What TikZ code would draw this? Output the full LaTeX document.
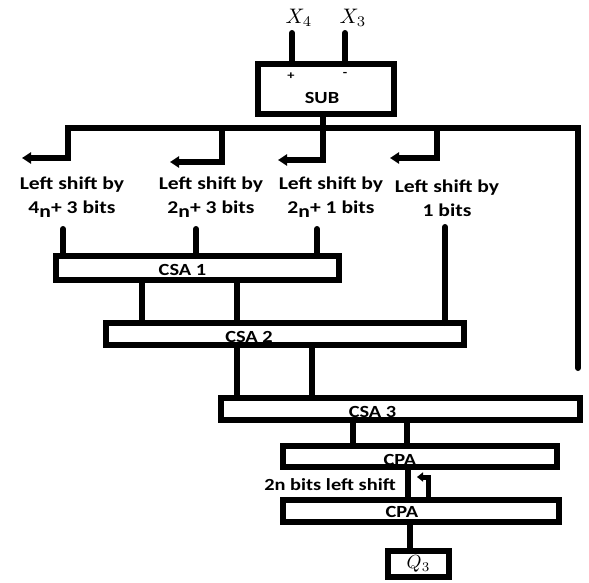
\documentclass[tikz,border=0pt]{standalone}
\usepackage{fontspec}
\setmainfont{Carlito}[FakeStretch=1.2]
\usetikzlibrary{arrows.meta}
\begin{document}
\begin{tikzpicture}[x=1pt,y=-1pt,
  wire/.style={line width=6pt},
  blk/.style={draw, line width=6pt, inner sep=0pt, outer sep=0pt},
  btxt/.style={font=\bfseries\fontsize{17}{20}\selectfont},
  lbl/.style={font=\bfseries\fontsize{18}{24}\selectfont, align=center},
  tip/.style={-{Triangle[length=9pt,width=11pt]}}]
\useasboundingbox (0,0) rectangle (589,583);

% boxes
\node[blk, minimum width=136pt, minimum height=50pt,
  label={[btxt, xshift=-4pt, yshift=-9pt]center:SUB},
  label={[font=\bfseries\fontsize{12}{12}\selectfont, xshift=-35pt, yshift=13pt]center:+},
  label={[font=\bfseries\fontsize{12}{12}\selectfont, xshift=19pt, yshift=15pt]center:-}] (sub) at (326,89) {};
\node[blk, minimum width=283pt, minimum height=24pt,
  label={[btxt, xshift=-15pt, yshift=-2pt]center:CSA 1}] (csa1) at (197.5,268) {};
\node[blk, minimum width=358pt, minimum height=22pt,
  label={[btxt, xshift=-36pt, yshift=-3pt]center:CSA 2}] (csa2) at (285,334) {};
\node[blk, minimum width=359pt, minimum height=22pt,
  label={[btxt, xshift=-28pt, yshift=-3pt]center:CSA 3}] (csa3) at (400.5,409) {};
\node[blk, minimum width=274pt, minimum height=21pt,
  label={[btxt, xshift=-20pt, yshift=-3pt]center:CPA}] (cpa1) at (420,456.5) {};
\node[blk, minimum width=276pt, minimum height=22pt,
  label={[btxt, xshift=-19pt, yshift=-1pt]center:CPA}] (cpa2) at (421,511) {};
\node[blk, minimum width=61pt, minimum height=26pt] (q3) at (418.5,564) {\scalebox{1.9}{$Q_3$}};

% inputs
\node (x4) at (299,18) {\scalebox{2.1}{$X_4$}};
\node (x3) at (353,18) {\scalebox{2.1}{$X_3$}};
\coordinate (p4) at (292,33);
\coordinate (p3) at (345,33);
\draw[wire, line cap=round] (p4) -- (p4 |- sub.north);
\draw[wire, line cap=round] (p3) -- (p3 |- sub.north);

% bus
\coordinate (a1) at (22,158);
\coordinate (b1) at (68,128);
\coordinate (b2) at (222,128);
\coordinate (a2) at (170,162);
\coordinate (b3) at (323,128);
\coordinate (a3) at (278,160);
\coordinate (b4) at (437,128);
\coordinate (a4) at (390,158);
\coordinate (b5) at (578,128);
\coordinate (e5) at (578,368);
\draw[wire] (sub.south -| b3) -- (b3);
\draw[wire, line cap=round, {Triangle[length=9pt,width=11pt]}-] (a1) -| (b1) -- (b5) -- (e5);
\draw[wire, tip] (b2) |- (a2);
\draw[wire, tip] (b3) |- (a3);
\draw[wire, tip] (b4) |- (a4);

% labels
\node[lbl] (l1) at (72,197) {Left shift by\\4\raisebox{-4pt}{n}+ 3 bits};
\node[lbl] (l2) at (211,197) {Left shift by\\2\raisebox{-4pt}{n}+ 3 bits};
\node[lbl] (l3) at (331,197) {Left shift by\\2\raisebox{-4pt}{n}+ 1 bits};
\node[lbl] (l4) at (447,198) {Left shift by\\1 bits};

% stubs
\coordinate (s1) at (63,229);
\coordinate (s2) at (196,229);
\coordinate (s3) at (317,229);
\coordinate (s4) at (445,227);
\draw[wire, line cap=round] (s1) -- (s1 |- csa1.north);
\draw[wire, line cap=round] (s2) -- (s2 |- csa1.north);
\draw[wire, line cap=round] (s3) -- (s3 |- csa1.north);
\draw[wire, line cap=round] (s4) -- (s4 |- csa2.north);

% inter-block wires
\coordinate (k1) at (142,0);
\coordinate (k2) at (237,0);
\coordinate (k3) at (312,0);
\coordinate (k4) at (353,0);
\coordinate (k5) at (407,0);
\coordinate (k6) at (408,0);
\coordinate (k7) at (410,0);
\draw[wire] (csa1.south -| k1) -- (csa2.north -| k1);
\draw[wire] (csa1.south -| k2) -- (csa2.north -| k2);
\draw[wire] (csa2.south -| k2) -- (csa3.north -| k2);
\draw[wire] (csa2.south -| k3) -- (csa3.north -| k3);
\draw[wire] (csa3.south -| k4) -- (cpa1.north -| k4);
\draw[wire] (csa3.south -| k5) -- (cpa1.north -| k5);
\draw[wire] (cpa1.south -| k6) -- (cpa2.north -| k6);
\draw[wire] (cpa2.south -| k7) -- (q3.north -| k7);

% shift feedback arrow
\coordinate (m1) at (428,477);
\coordinate (m2) at (417,477);
\draw[line width=5pt, -{Triangle[length=6pt,width=9pt]}] (cpa2.north -| m1) |- (m2);
\node[btxt] (sh) at (330,485) {2n bits left shift};
\end{tikzpicture}
\end{document}
